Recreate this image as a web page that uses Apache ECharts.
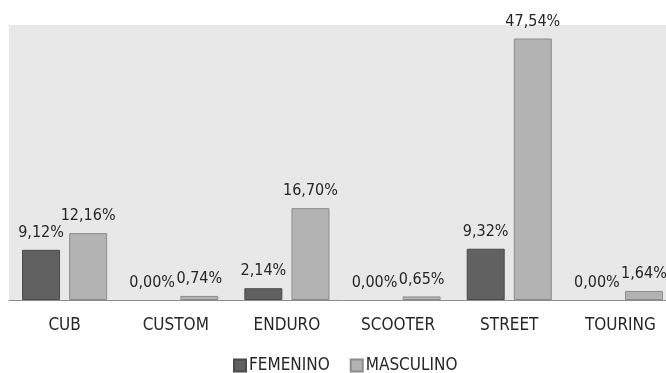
<!DOCTYPE html>
<html>
<head>
<meta charset="utf-8">
<script src="https://cdn.jsdelivr.net/npm/echarts@6/dist/echarts.min.js"></script>
<style>
  html, body { margin: 0; padding: 0; background: #fff; overflow: hidden; }
  #chart { width: 676px; height: 373px; }
</style>
</head>
<body>
<div id="chart"></div>
<script>
var categories = ['CUB', 'CUSTOM', 'ENDURO', 'SCOOTER', 'STREET', 'TOURING'];
var femenino = [9.12, 0.00, 2.14, 0.00, 9.32, 0.00];
var masculino = [12.16, 0.74, 16.70, 0.65, 47.54, 1.64];

var fontFamily = '"Liberation Sans Narrow", "DejaVu Sans Condensed", sans-serif';

function pct(p) {
    return p.value.toFixed(2).replace('.', ',') + '%';
}

// zero bars get no outline (nothing drawn, like the original)
function items(arr) {
    return arr.map(function (v) {
        return v === 0 ? {value: v, itemStyle: {borderWidth: 0}} : v;
    });
}

var labelOpt = {
    show: true,
    position: 'top',
    distance: 9,
    fontSize: 16,
    color: '#262626',
    fontFamily: fontFamily,
    formatter: pct
};

// plot area runs a little past the right edge of the picture, as in the original
var myChart = echarts.init(document.getElementById('chart'));
myChart.setOption({
    animation: false,
    textStyle: {fontFamily: fontFamily},
    grid: {
        left: 9,
        right: 0,
        top: 25,
        bottom: 73,
        show: true,
        backgroundColor: '#e8e8e8',
        borderWidth: 0
    },
    legend: {
        top: 357,
        left: 233,
        padding: 0,
        itemWidth: 12,
        itemHeight: 12,
        itemGap: 20,
        icon: 'rect',
        textStyle: {fontSize: 17, color: '#262626', fontFamily: fontFamily, padding: [0, 0, 0, -2]},
        data: ['FEMENINO', 'MASCULINO']
    },
    xAxis: {
        type: 'category',
        data: categories,
        axisTick: {show: false},
        axisLine: {lineStyle: {color: '#8c8c8c', width: 1}},
        axisLabel: {fontSize: 17, color: '#262626', margin: 17, fontFamily: fontFamily}
    },
    yAxis: {
        type: 'value',
        min: 0,
        max: 50,
        show: false,
        splitLine: {show: false}
    },
    series: [
        {
            name: 'FEMENINO',
            type: 'bar',
            data: items(femenino),
            barWidth: 38,
            barGap: '24%',
            itemStyle: {color: '#616161', borderColor: '#4a4a4a', borderWidth: 1},
            label: labelOpt
        },
        {
            name: 'MASCULINO',
            type: 'bar',
            data: items(masculino),
            barWidth: 38,
            itemStyle: {color: '#b3b3b3', borderColor: '#8c8c8c', borderWidth: 1},
            label: labelOpt
        }
    ]
});
</script>
</body>
</html>
